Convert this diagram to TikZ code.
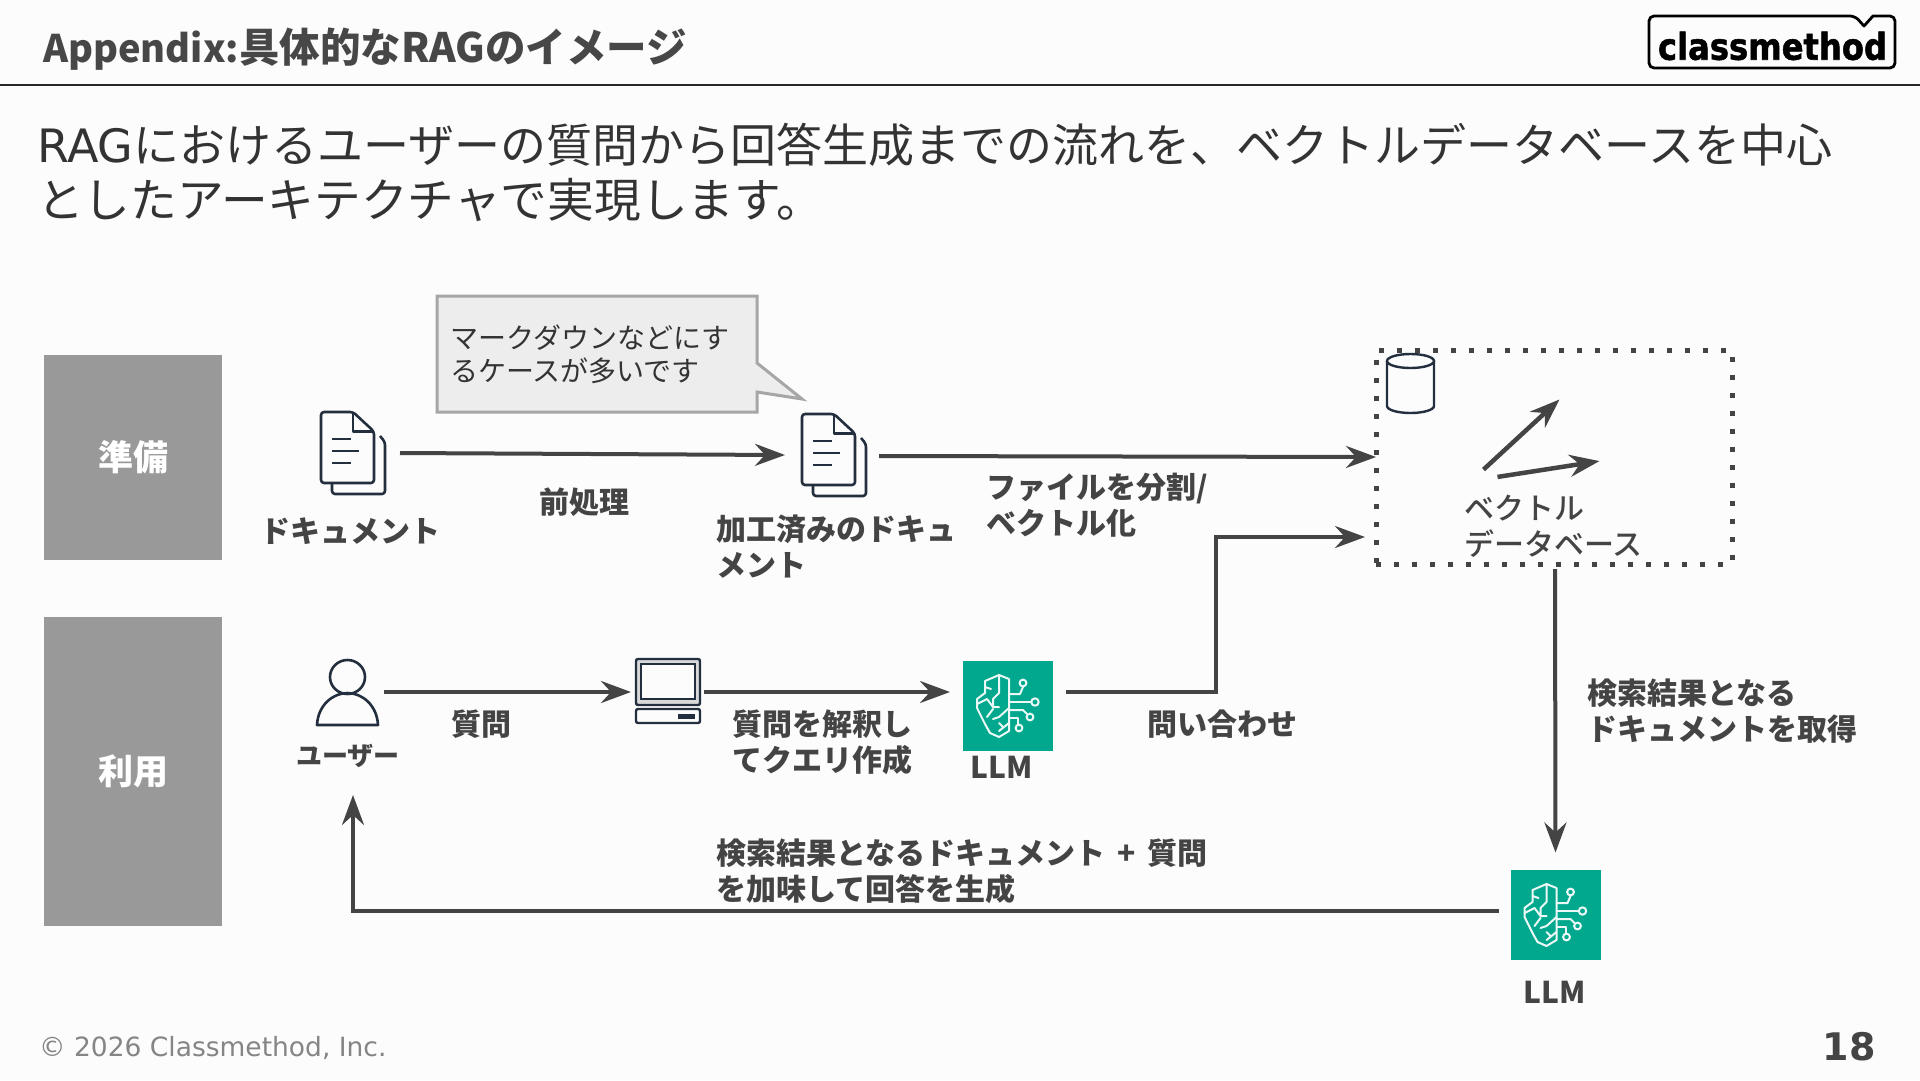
\documentclass[tikz,border=0pt]{standalone}
\usepackage{fontspec}
\usepackage{graphicx}
\usetikzlibrary{arrows.meta,calc}
\setmainfont{DejaVu Sans}
\newfontfamily\jp{Noto Sans CJK JP}
\newfontfamily\jpm{Noto Sans CJK JP}[UprightFont=* Medium]
\newfontfamily\logofont{DejaVu Sans Bold}[FakeBold=1.5]
\definecolor{bg}{HTML}{FCFCFC}
\definecolor{ink}{HTML}{444444}
\definecolor{bodyink}{HTML}{333333}
\definecolor{boxgray}{HTML}{999999}
\definecolor{teal}{HTML}{01A88D}
\definecolor{iconink}{HTML}{232F3E}
\newcommand{\fs}[2]{\fontsize{#1}{#2}\selectfont}
\tikzset{
  x=1pt,y=-1pt,
  arr/.style={draw=ink,line width=4pt,-{Stealth[length=30pt,width=22pt,inset=10pt]}},
  lbl/.style={anchor=west,inner sep=0pt,align=left,text=ink,font=\fs{30}{36}\jp\bfseries},
  side/.style={fill=boxgray,inner sep=0pt,text=white,font=\fs{35}{42}\jp\bfseries},
  iconbox/.style={inner sep=0pt,outer sep=0pt},
  llmbox/.style={fill=teal,inner sep=0pt,outer sep=0pt,minimum width=90pt,minimum height=90pt},
  docicon/.pic={
    \draw[iconink,line width=2.6pt,line join=round,rounded corners=3pt] (59,24)--(64,30)--(64,82)--(11,82)--(11,71);
    \draw[iconink,line width=2.6pt,line join=round,fill=bg,rounded corners=3pt] (32,0)--(53,19.5)--(53,71)--(0,71)--(0,0)--cycle;
    \draw[iconink,line width=2.6pt,line join=round] (32,0)--(32,19.5)--(53,19.5);
    \draw[iconink,line width=2.6pt] (11,27)--(30,27) (11,39)--(38,39) (11,51)--(30,51);
  },
  llmicon/.pic={
    \begin{scope}[draw=white!92!teal,line width=2pt,line join=round,line cap=round]
      \draw (36,14)--(46,18)--(46,70)--(36,76)--(27,72)--(22,63)--(14,47)--(14,38)--(22,32)--(22,20)--cycle;
      \draw (46,33)--(57,33)--(60,26);
      \draw (60,22) circle[radius=3.4];
      \draw (46,41)--(68,41);
      \draw (72,41) circle[radius=3.7];
      \draw (46,49)--(60,49)--(64,53);
      \draw (67,56) circle[radius=3.4];
      \draw (46,57)--(55,57)--(55,63);
      \draw (56,67) circle[radius=3.4];
      \draw (36,14)--(36,32)--(30,38) (22,26)--(28,28);
      \draw (14,43)--(24,38)--(30,46)--(36,46) (30,38)--(30,46) (24,56)--(30,48);
      \draw (46,47)--(36,56)--(30,58) (46,62)--(36,70) (36,62)--(40,66);
    \end{scope}
  }
}
\begin{document}
\begin{tikzpicture}
\useasboundingbox (0,0) rectangle (1920,1080);
\fill[bg] (0,0) rectangle (1920,1080);

% header
\coordinate (hl) at (0,85);
\coordinate (hr) at (1920,85);
\draw[black!85,line width=1.6pt] (hl)--(hr);
\node[anchor=west,inner sep=0pt,text=bodyink!90!white,font=\fs{38}{44}\jp\bfseries] (title) at (43,49) {Appendix:{\fs{40.5}{44}具体的なRAGのイメージ}};

% logo
\draw[black,line width=2.8pt,line join=round,fill=bg,rounded corners=5pt] (1700,16)--(1855,16)[sharp corners]--(1864,26)--(1873,16)[rounded corners=5pt]--(1895,16)--(1895,68)--(1649,68)--(1649,16)--cycle;
\node[inner sep=0pt,anchor=center,text=black] (logo) at (1772.5,46) {\resizebox{229pt}{28pt}{\logofont classmethod}};

% lead text
\node[anchor=west,inner sep=0pt,align=left,text=bodyink,font=\fs{46}{55}] (lead) at (37,172.5) {RAG{\jp におけるユーザーの質問から回答生成までの流れを、ベクトルデータベースを中心}\\{\fs{46.7}{55}\jp としたアーキテクチャで実現します。}};

% side boxes
\node[side,minimum width=178pt,minimum height=205pt] (prep) at (133,457.5) {準備};
\node[side,minimum width=178pt,minimum height=309pt] (use) at (133,771.5) {利用};

% callout
\draw[draw=black!35,fill=black!7,line width=3pt,line join=miter] (437,296)--(757,296)--(757,363)--(802,399)--(757,392)--(757,412)--(437,412)--cycle;
\node[anchor=west,inner sep=0pt,align=left,text=bodyink,font=\fs{28}{33}\jp] (call) at (450,354.5) {マークダウンなどにす\\るケースが多いです};

% documents
\node[iconbox,minimum width=65pt,minimum height=82pt] (doc1) at (353.5,453) {};
\pic at (321,412) {docicon};
\node[iconbox,minimum width=65pt,minimum height=82pt] (doc2) at (834.5,455) {};
\pic at (802,414) {docicon};
\node[lbl] (doc1l) at (260,531) {ドキュメント};
\node[lbl] (doc2l) at (716,547) {加工済みのドキュ\\メント};
\node[lbl] (t1) at (539,502) {前処理};
\node[lbl] (t2) at (986,505) {ファイルを分割/\\ベクトル化};

% vector db
\node[iconbox,draw=ink,line width=5pt,dash pattern=on 5pt off 13pt,minimum width=356pt,minimum height=214pt] (db) at (1554,457) {};
\draw[iconink,line width=2.4pt,fill=bg] (1387,361) -- (1387,406) arc[start angle=180,end angle=0,x radius=23.5,y radius=7] -- (1434,361);
\draw[iconink,line width=2.4pt,fill=bg] (1410.5,361) ellipse[x radius=23.5,y radius=7];
\node[iconbox] (va) at (1483,470) {};
\node[iconbox] (vb) at (1560,399) {};
\node[iconbox] (vc) at (1497,477) {};
\node[iconbox] (vd) at (1600,461) {};
\draw[arr,line width=4.5pt] (va)--(vb);
\draw[arr,line width=4.5pt] (vc)--(vd);
\node[anchor=west,inner sep=0pt,align=left,text=ink,font=\fs{30}{36}\jpm] (dbl) at (1464,526) {ベクトル\\データベース};

% user
\node[iconbox,minimum width=62pt,minimum height=66pt] (user) at (347.5,692) {};
\draw[iconink,line width=2.6pt] (347.5,677) ellipse[x radius=17.5,y radius=17];
\draw[iconink,line width=2.6pt,line join=round] (317,725) .. controls (318,705) and (333,693) .. (347.5,693) .. controls (362,693) and (377,705) .. (378,725) -- cycle;
\node[anchor=center,inner sep=0pt,text=ink,font=\fs{26}{32}\jp\bfseries] (userl) at (348,756) {ユーザー};

% computer
\node[iconbox,minimum width=64pt,minimum height=64pt] (pc) at (668,691) {};
\draw[iconink,line width=2.4pt,fill=black!15,rounded corners=2pt] (636,659) rectangle (700,705);
\draw[iconink,line width=2.2pt,fill=bg] (641,664) rectangle (695,699);
\draw[iconink,line width=2.4pt,fill=bg,rounded corners=2pt] (636,709) rectangle (700,723);
\fill[iconink] (678,714) rectangle (695,719);

% LLMs
\node[llmbox] (llm1) at (1008,705.5) {};
\pic at (963,661) {llmicon};
\node[anchor=center,inner sep=0pt,text=ink,font=\fs{30}{34}\jp\bfseries] (llm1l) at (1002,767) {LLM};
\node[llmbox] (llm2) at (1555.5,914.5) {};
\pic at (1510.5,870) {llmicon};
\node[anchor=center,inner sep=0pt,text=ink,font=\fs{30}{34}\jp\bfseries] (llm2l) at (1555,992) {LLM};

% labels
\node[lbl] (t3) at (451,724) {質問};
\node[lbl] (t4) at (732,742) {質問を解釈し\\てクエリ作成};
\node[lbl] (t5) at (1147,724) {問い合わせ};
\node[lbl] (t6) at (1587,711) {検索結果となる\\ドキュメントを取得};
\node[lbl] (t7) at (716,871) {検索結果となるドキュメント\hspace{5pt} + \hspace{5pt}質問\\を加味して回答を生成};

% connectors
\draw[arr] ([xshift=14pt]doc1.east) -- ([xshift=-17pt]doc2.west);
\draw[arr] ([xshift=12pt,yshift=-1pt]doc2.east) -- ([yshift=0pt]db.west);
\draw[arr] ([xshift=5pt]user.east) -- ([xshift=-5pt,yshift=-1pt]pc.west);
\draw[arr] ([xshift=4pt,yshift=-1pt]pc.east) -- ([xshift=-13pt,yshift=13.5pt]llm1.west);
\draw[arr] ([xshift=13pt,yshift=13.5pt]llm1.east) -| (1216,537) -- ([xshift=-11pt,yshift=-80pt]db.west);
\draw[arr] ([xshift=1pt,yshift=-5pt]db.south) -- ([yshift=17pt]llm2.north);
\draw[arr] ([xshift=-12pt,yshift=3.5pt]llm2.west) -| ([xshift=5pt,yshift=-27pt]userl.south);

% footer
\node[anchor=west,inner sep=0pt,text=black!48,font=\fs{26.5}{32}] (foot) at (39,1048) {© 2026 Classmethod, Inc.};
\node[anchor=east,inner sep=0pt,text=ink,font=\fs{38}{44}\bfseries] (page) at (1876,1047) {18};
\end{tikzpicture}
\end{document}
